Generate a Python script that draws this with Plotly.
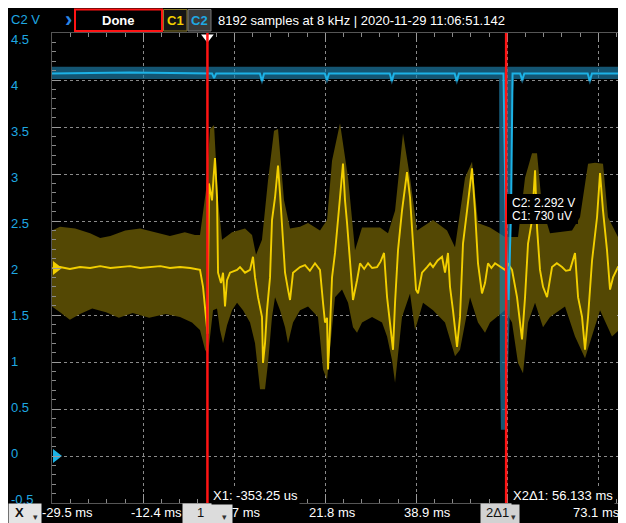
import plotly.graph_objects as go

# ---------------- data (time in ms, voltage in V) ----------------
c1_t = [-29.5, -28.05, -26.2, -24.3, -22.4, -20.5, -18.6, -16.8, -14.9, -13.0, -11.1, -9.2, -7.4, -5.5,
        -3.6, -2.3, -1.75, -1.18, -0.62, -0.33, -0.06, 0.51, 0.79, 1.07, 1.45, 1.64, 2.20, 2.58, 2.95,
        3.33, 3.89, 5.21, 5.77, 6.71, 7.65, 8.21, 8.59, 9.15, 9.90, 10.09, 10.47, 10.84, 11.41, 11.78,
        12.35, 12.91, 13.29, 13.66, 14.23, 14.79, 15.17, 15.73, 17.05, 17.98, 18.9, 19.86, 20.80, 21.37,
        21.74, 22.12, 22.31, 22.68, 23.06, 23.62, 24.19, 24.56, 25.12, 25.50, 25.88, 26.44, 27.00, 27.76,
        28.32, 29.1, 29.83, 30.6, 31.52, 32.2, 32.83, 33.40, 33.96, 34.52, 34.90, 35.46, 36.21, 37.15,
        37.72, 38.28, 38.84, 39.22, 39.97, 40.91, 41.5, 42.04, 42.9, 43.73, 44.29, 44.85, 45.23, 45.79,
        46.55, 47.11, 47.67, 48.43, 49.37, 49.93, 50.49, 51.24, 51.81, 52.37, 53.0, 53.69, 54.6, 55.57,
        56.2, 56.88, 57.82, 58.39, 58.76, 59.33, 59.89, 60.64, 61.21, 61.58, 62.14, 62.71, 63.46, 64.40,
        65.3, 66.28, 67.0, 67.78, 68.72, 69.29, 70.04, 70.60, 71.17, 71.92, 72.86, 73.42, 73.98, 74.73,
        75.30, 75.86, 76.80, 77.5, 78.3]
c1_v = [2.00, 2.01, 1.99, 2.01, 2.00, 2.02, 2.00, 2.01, 2.02, 2.00, 2.01, 2.02, 2.00, 2.01,
        2.00, 1.99, 1.98, 1.80, 1.42, 1.30, 2.90, 2.72, 2.96, 3.17, 2.75, 1.95, 1.84, 1.95, 1.59,
        1.87, 1.95, 1.98, 2.01, 1.95, 1.98, 2.12, 1.90, 1.69, 1.48, 0.99, 1.20, 1.55, 1.90, 2.51,
        2.75, 3.09, 2.79, 2.43, 1.95, 1.77, 1.66, 1.95, 2.01, 2.03, 1.97, 2.05, 1.98, 1.63,
        1.42, 1.47, 0.92, 1.37, 1.90, 2.16, 2.58, 2.75, 3.11, 2.72, 2.48, 2.08, 1.66, 1.87,
        2.05, 1.99, 2.05, 2.00, 2.01, 2.07, 2.16, 1.69, 1.42, 1.13, 1.63, 2.19, 2.61, 3.02,
        2.75, 2.19, 1.77, 1.73, 1.95, 2.01, 2.05, 2.01, 2.08, 2.12, 1.95, 2.16, 1.80, 1.55,
        1.16, 1.48, 2.26, 2.61, 3.06, 2.61, 2.05, 1.73, 1.84, 2.05, 2.00, 2.05, 2.02, 1.98,
        2.04, 1.98, 1.69, 1.37, 1.24, 1.69, 2.26, 2.51, 3.04, 2.43, 1.98, 1.80, 1.69, 2.01,
        2.05, 2.01, 1.97, 1.98, 2.16, 1.69, 1.48, 1.13, 1.48, 2.08, 2.54, 3.01, 2.61, 2.19,
        1.77, 1.90, 2.01, 2.03, 2.01]

c1_max_t = [-29.56, -28.05, -25.2, -22.4, -20.5, -18.6, -15.8, -13.0, -10.2, -7.4, -4.6, -2.7, -1.75,
            -0.62, 0.13, 0.89, 1.64, 2.39, 4.27, 6.71, 8.03, 8.78, 9.90, 11.03, 12.16, 12.91, 14.04,
            15.17, 17.05, 18.55, 20.80, 22.12, 23.06, 24.56, 26.07, 27.38, 28.70, 32.08, 33.58, 34.90,
            36.40, 37.72, 39.03, 42.04, 44.67, 46.17, 48.05, 49.37, 50.49, 52.75, 55.57, 58.01, 59.33,
            60.64, 61.58, 62.52, 64.02, 68.16, 69.66, 71.17, 72.48, 73.98, 74.92, 76.80, 78.3]
c1_max_v = [2.40, 2.44, 2.42, 2.37, 2.32, 2.34, 2.40, 2.42, 2.38, 2.34, 2.38, 2.35, 2.35,
            2.83, 3.48, 3.52, 2.72, 2.30, 2.38, 2.42, 2.35, 2.14, 2.30, 2.93, 3.46, 3.48, 2.72,
            2.42, 2.44, 2.48, 2.40, 2.51, 3.14, 3.54, 2.96, 2.19, 2.43, 2.43, 2.37, 2.61,
            3.43, 2.96, 2.40, 2.51, 2.40, 2.22, 2.96, 3.13, 2.48, 2.43, 2.33, 2.33, 2.96,
            3.22, 3.22, 2.65, 2.37, 2.40, 2.54, 3.11, 3.12, 3.11, 2.54, 2.33, 2.37]

c1_min_t = [-29.56, -28.05, -26.2, -24.3, -22.0, -19.4, -17.0, -14.4, -11.3, -8.2, -5.5, -3.25, -1.75,
            -0.80, -0.24, 0.70, 1.45, 2.01, 2.58, 3.33, 4.27, 5.21, 6.33, 7.65, 8.59, 9.53, 10.47,
            11.03, 11.78, 12.35, 13.29, 14.23, 14.79, 15.73, 17.05, 18.55, 20.42, 21.37, 22.12, 23.06,
            23.62, 24.94, 26.07, 27.00, 27.76, 28.70, 30.58, 32.46, 33.40, 34.33, 34.90, 36.21, 37.72,
            38.66, 40.16, 42.04, 44.29, 46.17, 47.11, 48.99, 50.49, 51.81, 52.75, 55.57, 56.88, 58.01,
            58.95, 59.89, 61.21, 62.71, 64.02, 66.84, 68.72, 70.60, 71.92, 73.42, 75.67, 77.55, 78.3]
c1_min_v = [1.59, 1.53, 1.45, 1.51, 1.57, 1.53, 1.47, 1.52, 1.47, 1.51, 1.48, 1.42, 1.34,
            1.13, 1.08, 1.55, 1.57, 1.34, 1.20, 1.39, 1.55, 1.63, 1.55, 1.42, 1.20, 0.71, 0.71,
            0.99, 1.48, 1.69, 1.55, 1.37, 1.20, 1.42, 1.55, 1.59, 1.48, 0.92, 0.81, 1.37,
            1.69, 1.77, 1.63, 1.37, 1.31, 1.42, 1.48, 1.42, 1.27, 1.02, 0.78, 1.48, 1.73,
            1.34, 1.63, 1.55, 1.42, 1.06, 1.13, 1.69, 1.42, 1.31, 1.42, 1.55, 1.42, 0.99,
            0.88, 1.42, 1.63, 1.37, 1.48, 1.59, 1.27, 1.04, 1.27, 1.55, 1.27, 1.37, 1.42]

c2_t = [-29.56, -15.0, 0.5, 0.9, 1.3, 9.5, 9.9, 10.3, 21.7, 22.1, 22.5, 33.9, 34.3, 34.7, 46.1, 46.5,
        46.9, 55.28, 55.57, 55.75, 56.22, 56.70, 56.98, 58.4, 58.8, 59.2, 71.1, 71.5, 71.9, 78.30]
c2_v = [4.07, 4.08, 4.07, 4.02, 4.07, 4.07, 3.99, 4.07, 4.07, 4.00, 4.07, 4.07, 3.99, 4.07, 4.07, 3.99,
        4.07, 4.07, 3.00, 2.29, 1.66, 2.60, 4.07, 4.07, 4.00, 4.07, 4.07, 3.99, 4.07, 4.07]
c2_max_t = [-29.56, 78.30]
c2_max_v = [4.14, 4.14]
c2_min_t = [-29.56, 9.5, 9.9, 10.3, 21.7, 22.1, 22.5, 33.9, 34.3, 34.7, 46.1, 46.5, 46.9, 54.45, 54.6,
            54.8, 55.8, 56.1, 56.5, 56.7, 57.0, 57.2, 58.4, 58.8, 59.2, 71.1, 71.5, 71.9, 78.30]
c2_min_v = [4.01, 4.01, 3.95, 4.01, 4.01, 3.96, 4.01, 4.01, 3.95, 4.01, 4.01, 3.95, 4.01, 4.01, 1.00,
            0.28, 0.28, 0.90, 1.60, 2.20, 3.80, 4.01, 4.01, 3.96, 4.01, 4.01, 3.95, 4.01, 4.01]

x_range = [-29.56, 78.30]
y_range = [-0.5, 4.5]
xtick_vals = [-29.5, -12.4, 4.7, 21.8, 38.9, 56.0, 73.1]
xtick_text = ["-29.5 ms", "-12.4 ms", "4.7 ms", "21.8 ms", "38.9 ms", "56.0 ms", "73.1 ms"]
ytick_vals = [4.5, 4.0, 3.5, 3.0, 2.5, 2.0, 1.5, 1.0, 0.5, 0.0, -0.5]
ytick_text = ["4.5", "4", "3.5", "3", "2.5", "2", "1.5", "1", "0.5", "0", "-0.5"]
x1_cursor = -0.35325     # ms
x2_delta = 56.133        # ms
c1_offset, c2_offset = 2.0, 0.0
readout_c2 = "C2: 2.292 V"
readout_c1 = "C1: 730 uV"
header = "8192 samples at 8 kHz | 2020-11-29 11:06:51.142"

# ---------------- layout helpers ----------------
# page body has an 8px margin; helpers take screenshot pixel positions
OFF = 8
W, H = 618, 515
ML, MR, MT, MB = 44, 0, 25, 20
PW, PH = W - ML - MR, H - MT - MB
def px(x): return (x - OFF - ML) / PW
def py(y): return (H - MB - (y - OFF)) / PH

FONT = "Arial, Liberation Sans, Helvetica, sans-serif"
YEL, YEL_BAND = "#f2cf00", "rgb(84,72,4)"
CYAN, CYAN_BAND = "#1cb2e6", "rgba(30,130,175,0.65)"
LBL_BLUE = "#1fa8e2"
RED = "#ff1414"

x2_cursor = x1_cursor + x2_delta

fig = go.Figure()
fig.add_trace(go.Scatter(x=c1_max_t + c1_min_t[::-1], y=c1_max_v + c1_min_v[::-1], fill="toself",
                         fillcolor=YEL_BAND, line=dict(width=0), mode="lines", hoverinfo="skip"))
fig.add_trace(go.Scatter(x=c2_max_t + c2_min_t[::-1], y=c2_max_v + c2_min_v[::-1], fill="toself",
                         fillcolor=CYAN_BAND, line=dict(width=0), mode="lines", hoverinfo="skip"))
fig.add_trace(go.Scatter(x=c1_t, y=c1_v, mode="lines", line=dict(color=YEL, width=1.9)))
fig.add_trace(go.Scatter(x=c2_t, y=c2_v, mode="lines", line=dict(color=CYAN, width=2)))
# channel offset markers
fig.add_trace(go.Scatter(x=[x_range[0] + 0.75, x_range[0] + 0.75], y=[c1_offset, c2_offset], mode="markers",
                         marker=dict(symbol="triangle-right", size=12, color=[YEL, CYAN]), cliponaxis=False))
# cursor 1 handle
fig.add_trace(go.Scatter(x=[x1_cursor], y=[y_range[1] - 0.045], mode="markers",
                         marker=dict(symbol="triangle-down", size=11, color="white"), cliponaxis=False))

shapes = []
for xc in (x1_cursor, x2_cursor):
    shapes.append(dict(type="line", xref="x", yref="paper", x0=xc, x1=xc, y0=0, y1=1,
                       line=dict(color=RED, width=2.5), layer="above"))
# readout box
shapes.append(dict(type="rect", xref="paper", yref="paper", x0=px(507), x1=px(578), y0=py(224), y1=py(194),
                   fillcolor="black", line=dict(width=0), layer="above"))
# top bar boxes
shapes.append(dict(type="rect", xref="paper", yref="paper", x0=px(75), x1=px(162), y0=py(31), y1=py(9.5),
                   fillcolor="black", line=dict(color=RED, width=2)))
shapes.append(dict(type="rect", xref="paper", yref="paper", x0=px(163.5), x1=px(187), y0=py(31), y1=py(9.5),
                   fillcolor="#141414", line=dict(color="#8a7b26", width=1)))
shapes.append(dict(type="rect", xref="paper", yref="paper", x0=px(188), x1=px(211), y0=py(31), y1=py(9.5),
                   fillcolor="#3a3a3a", line=dict(color="#777777", width=1)))

ann = []
def A(text, x, y, xref="paper", yref="paper", xanchor="center", color="white", size=13, **kw):
    d = dict(text=text, x=x, y=y, xref=xref, yref=yref, xanchor=xanchor, yanchor="middle",
             showarrow=False, font=dict(family=FONT, size=size, color=color))
    d.update(kw)
    ann.append(d)

# y labels (left aligned in the margin)
for v, t in zip(ytick_vals, ytick_text):
    A(t, px(9), py(40 + (y_range[1] - v) / 0.5 * 45.9), xanchor="left", color=LBL_BLUE)

# x labels in the bottom bar (a label sitting under the cursor-2 selector is not drawn)
x_shift = [15, 13, 7, 7, 11, 10, -2]
for v, t, s in zip(xtick_vals, xtick_text, x_shift):
    if abs(v - x2_cursor) < 2.0:
        continue
    A(t, v, py(513), xref="x", xshift=s)

# cursor boxes in bottom bar (drawn over labels)
A(" ", px(8), py(513.5), xanchor="left", bgcolor="#e4e4e4", width=32, height=19, borderpad=0)
A("<b>X</b>", px(19), py(513), color="#111")
A("▾", px(35), py(517), color="#333", size=9)
A(" ", px(182), py(513.5), xanchor="left", bgcolor="#dcdcdc", width=49, height=19, borderpad=0)
A("1", px(200), py(513), color="#111")
A("▾", px(224), py(517), color="#333", size=9)
A(" ", px(480), py(513.5), xanchor="left", bgcolor="#d2d2d2", width=38, height=19, borderpad=0)
A("2Δ1", px(497), py(513), color="#111")
A("▾", px(513), py(517), color="#333", size=9)

# cursor position labels
A(f"X1: {x1_cursor * 1000:.2f} us", x1_cursor, py(495.5), xref="x", xanchor="left", xshift=4,
  bgcolor="black", borderpad=1)
A(f"X2Δ1: {x2_delta:.3f} ms", x2_cursor, py(495.5), xref="x", xanchor="left", xshift=5,
  bgcolor="black", borderpad=1)
# readouts at cursor 2
A(readout_c2, px(510), py(203), xanchor="left", size=12)
A(readout_c1, px(510), py(216), xanchor="left", size=12)

# top bar
A("C2 V", px(9), py(20), xanchor="left", color=LBL_BLUE)
A("<b>›</b>", px(68), py(19), color="#2a86e6", size=22)
A("<b>Done</b>", px(118.5), py(20.5), color="white")
A("<b>C1</b>", px(175.5), py(20.5), color=YEL)
A("<b>C2</b>", px(199.5), py(20.5), color=LBL_BLUE)
A(header, px(216), py(20.5), xanchor="left")

fig.update_layout(
    width=W, height=H, margin=dict(l=ML, r=MR, t=MT, b=MB, pad=0),
    paper_bgcolor="black", plot_bgcolor="black", showlegend=False,
    font=dict(family=FONT),
    shapes=shapes, annotations=ann,
    xaxis=dict(range=x_range, tickvals=xtick_vals, showticklabels=False, zeroline=False,
               showgrid=True, gridcolor="#8a8a8a", griddash="3px,3px", gridwidth=1,
               ticks="inside", ticklen=9, tickcolor="#9a9a9a", showline=True, linecolor="#555",
               mirror="ticks",
               minor=dict(ticks="inside", ticklen=4, tickcolor="#8a8a8a", tick0=-29.5, dtick=3.42,
                          showgrid=False)),
    yaxis=dict(range=y_range, tickvals=ytick_vals, showticklabels=False, zeroline=False,
               showgrid=True, gridcolor="#8a8a8a", griddash="3px,3px", gridwidth=1,
               ticks="inside", ticklen=9, tickcolor="#9a9a9a", showline=True, linecolor="#555",
               mirror="ticks",
               minor=dict(ticks="inside", ticklen=4, tickcolor="#8a8a8a", tick0=0, dtick=0.1,
                          showgrid=False)),
)
fig.write_html("out.html")
